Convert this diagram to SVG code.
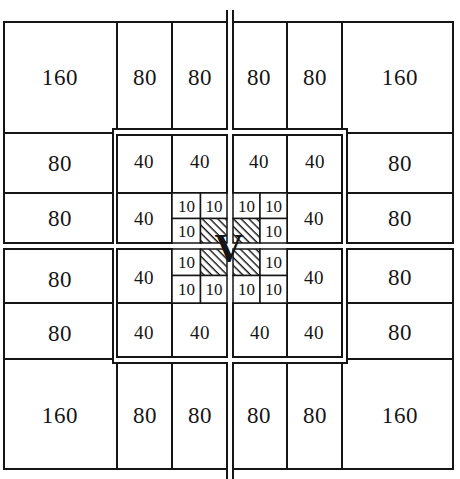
<svg xmlns="http://www.w3.org/2000/svg" width="460" height="479" viewBox="0 0 460 479">
<style>
.b{fill:#fff;stroke:#151515;stroke-width:2;stroke-linejoin:miter}
.s{fill:#fff;stroke:#151515;stroke-width:1.5}
.h{fill:url(#hatch);stroke:#151515;stroke-width:1.5}
.road{stroke:#151515;stroke-width:2;fill:none}
text{font-family:"Liberation Serif","Times New Roman",serif;fill:#151515;text-anchor:middle}
.L{font-size:23px;letter-spacing:0.6px}
.M{font-size:19px;letter-spacing:0.4px}
.S{font-size:17px}
.V{font-size:40px;font-weight:bold}
</style>
<defs>
<pattern id="hatch" width="5.5" height="5.5" patternUnits="userSpaceOnUse" patternTransform="rotate(45)">
<rect width="5.5" height="5.5" fill="#fff"/>
<rect x="0" y="0" width="5.5" height="1.4" fill="#151515"/>
</pattern>
</defs>
<rect width="460" height="479" fill="#fff"/>

<g id="roads">
<line class="road" x1="227" y1="10" x2="227" y2="22"/>
<line class="road" x1="233" y1="10" x2="233" y2="22"/>
<line class="road" x1="227" y1="469" x2="227" y2="479"/>
<line class="road" x1="233" y1="469" x2="233" y2="479"/>
</g>

<!-- top row -->
<g id="b160-tl"><path class="b" d="M4,22 H117 V129 H113 V133 H4 Z"/><text class="L" x="60" y="85">160</text></g>
<g id="b80-t1"><rect class="b" x="117" y="22" width="55" height="107"/><text class="L" x="145" y="85">80</text></g>
<g id="b80-t2"><rect class="b" x="172" y="22" width="55" height="107"/><text class="L" x="200" y="85">80</text></g>
<g id="b80-t3"><rect class="b" x="233" y="22" width="54" height="107"/><text class="L" x="259" y="85">80</text></g>
<g id="b80-t4"><rect class="b" x="287" y="22" width="55" height="107"/><text class="L" x="315" y="85">80</text></g>
<g id="b160-tr"><path class="b" d="M453,22 H342 V129 H347 V133 H453 Z"/><text class="L" x="400" y="85">160</text></g>

<!-- side 80s -->
<g id="b80-l1"><rect class="b" x="4" y="133" width="109" height="60"/><text class="L" x="60" y="171">80</text></g>
<g id="b80-l2"><rect class="b" x="4" y="193" width="109" height="50"/><text class="L" x="60" y="226">80</text></g>
<g id="b80-l3"><rect class="b" x="4" y="249" width="109" height="54"/><text class="L" x="60" y="287">80</text></g>
<g id="b80-l4"><rect class="b" x="4" y="303" width="109" height="56"/><text class="L" x="60" y="341">80</text></g>
<g id="b80-r1"><rect class="b" x="347" y="133" width="106" height="60"/><text class="L" x="400" y="171">80</text></g>
<g id="b80-r2"><rect class="b" x="347" y="193" width="106" height="50"/><text class="L" x="400" y="226">80</text></g>
<g id="b80-r3"><rect class="b" x="347" y="249" width="106" height="54"/><text class="L" x="400" y="285">80</text></g>
<g id="b80-r4"><rect class="b" x="347" y="303" width="106" height="56"/><text class="L" x="400" y="340">80</text></g>

<!-- 40s -->
<g id="b40-1"><rect class="b" x="117" y="135" width="55" height="58"/><text class="M" x="144" y="168">40</text></g>
<g id="b40-2"><rect class="b" x="172" y="135" width="55" height="58"/><text class="M" x="200" y="168">40</text></g>
<g id="b40-3"><rect class="b" x="233" y="135" width="54" height="58"/><text class="M" x="259" y="168">40</text></g>
<g id="b40-4"><rect class="b" x="287" y="135" width="55" height="58"/><text class="M" x="315" y="168">40</text></g>
<g id="b40-5"><rect class="b" x="117" y="193" width="55" height="50"/><text class="M" x="144" y="225">40</text></g>
<g id="b40-6"><rect class="b" x="287" y="193" width="55" height="50"/><text class="M" x="314" y="225">40</text></g>
<g id="b40-7"><rect class="b" x="117" y="249" width="55" height="54"/><text class="M" x="144" y="284">40</text></g>
<g id="b40-8"><rect class="b" x="287" y="249" width="55" height="54"/><text class="M" x="314" y="284">40</text></g>
<g id="b40-9"><rect class="b" x="117" y="303" width="55" height="54"/><text class="M" x="144" y="339">40</text></g>
<g id="b40-10"><rect class="b" x="172" y="303" width="55" height="54"/><text class="M" x="200" y="339">40</text></g>
<g id="b40-11"><rect class="b" x="233" y="303" width="54" height="54"/><text class="M" x="260" y="339">40</text></g>
<g id="b40-12"><rect class="b" x="287" y="303" width="55" height="54"/><text class="M" x="314" y="339">40</text></g>

<!-- 10s -->
<g id="b10-1"><rect class="s" x="172" y="193" width="28.5" height="25.5"/><text class="S" x="186.5" y="211.5">10</text></g>
<g id="b10-2"><rect class="s" x="200.5" y="193" width="26.5" height="25.5"/><text class="S" x="214" y="211.5">10</text></g>
<g id="b10-3"><rect class="s" x="172" y="218.5" width="28.5" height="24.5"/><text class="S" x="186.5" y="236.5">10</text></g>
<g id="b10-4"><rect class="h" x="200.5" y="218.5" width="26.5" height="24.5"/></g>
<g id="b10-5"><rect class="s" x="233" y="193" width="27" height="25.5"/><text class="S" x="246.5" y="211.5">10</text></g>
<g id="b10-6"><rect class="s" x="260" y="193" width="27" height="25.5"/><text class="S" x="273.5" y="211.5">10</text></g>
<g id="b10-7"><rect class="h" x="233" y="218.5" width="27" height="24.5"/></g>
<g id="b10-8"><rect class="s" x="260" y="218.5" width="27" height="24.5"/><text class="S" x="273.5" y="236.5">10</text></g>
<g id="b10-9"><rect class="s" x="172" y="249" width="28.5" height="26.5"/><text class="S" x="186.5" y="268">10</text></g>
<g id="b10-10"><rect class="h" x="200.5" y="249" width="26.5" height="26.5"/></g>
<g id="b10-11"><rect class="s" x="172" y="275.5" width="28.5" height="27.5"/><text class="S" x="186.5" y="295">10</text></g>
<g id="b10-12"><rect class="s" x="200.5" y="275.5" width="26.5" height="27.5"/><text class="S" x="214" y="295">10</text></g>
<g id="b10-13"><rect class="h" x="233" y="249" width="27" height="26.5"/></g>
<g id="b10-14"><rect class="s" x="260" y="249" width="27" height="26.5"/><text class="S" x="273.5" y="268">10</text></g>
<g id="b10-15"><rect class="s" x="233" y="275.5" width="27" height="27.5"/><text class="S" x="246.5" y="295">10</text></g>
<g id="b10-16"><rect class="s" x="260" y="275.5" width="27" height="27.5"/><text class="S" x="273.5" y="295">10</text></g>

<!-- bottom row -->
<g id="b160-bl"><path class="b" d="M4,469 H117 V363 H113 V359 H4 Z"/><text class="L" x="60" y="423">160</text></g>
<g id="b80-b1"><rect class="b" x="117" y="363" width="55" height="106"/><text class="L" x="145" y="423">80</text></g>
<g id="b80-b2"><rect class="b" x="172" y="363" width="55" height="106"/><text class="L" x="200" y="423">80</text></g>
<g id="b80-b3"><rect class="b" x="233" y="363" width="54" height="106"/><text class="L" x="259" y="423">80</text></g>
<g id="b80-b4"><rect class="b" x="287" y="363" width="55" height="106"/><text class="L" x="315" y="423">80</text></g>
<g id="b160-br"><path class="b" d="M453,469 H342 V363 H347 V359 H453 Z"/><text class="L" x="400" y="423">160</text></g>

<g id="v-mark"><text class="V" x="229" y="261">V</text></g>
</svg>
